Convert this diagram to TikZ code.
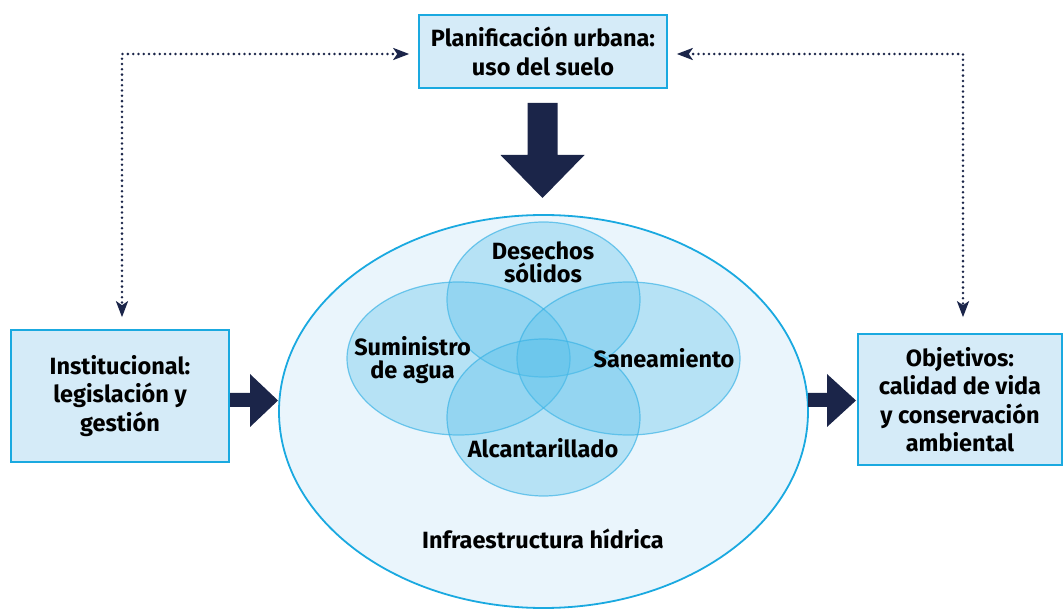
\documentclass[tikz,border=0pt]{standalone}
\usepackage{fontspec}
\setmainfont{Fira Sans}
\usetikzlibrary{arrows.meta}
\definecolor{navy}{HTML}{1B2549}
\definecolor{cyanline}{HTML}{1AA9E0}
\definecolor{boxfill}{HTML}{D5EBF8}
\definecolor{ellfill}{HTML}{EAF5FC}
\definecolor{circfill}{HTML}{4FBDE9}
\definecolor{circline}{HTML}{3DB4E6}
\tikzset{navytip/.tip={Stealth[length=16pt, width=12pt, inset=4pt]}}
\begin{document}
\begin{tikzpicture}[x=1pt,y=-1pt,
  lbl/.style={font=\fontsize{23.5}{28.5}\selectfont\bfseries, align=center, text=black},
  vlbl/.style={font=\fontsize{23.5}{22.5}\selectfont\bfseries, align=center, text=black, anchor=base, inner sep=0pt},
  infobox/.style={draw=cyanline, line width=1.6pt, fill=boxfill, inner sep=0pt, lbl},
  vennset/.style={fill=circfill, fill opacity=0.33, draw=circline, draw opacity=0.7, line width=1.2pt},
  dotline/.style={navy, line width=2.8pt, line cap=round, dash pattern=on 0pt off 5.3pt},
  block/.style={fill=navy}]
\useasboundingbox (0,0) rectangle (1063,609);

% outer ellipse
\draw[fill=ellfill, draw=cyanline, line width=1.8pt] (543.5,411.5) ellipse [x radius=264.5, y radius=196.5];

% venn sets
\draw[vennset] (543.5,299.5) ellipse [x radius=96.5, y radius=77.5];
\draw[vennset] (458.5,358.5) ellipse [x radius=111.5, y radius=76.5];
\draw[vennset] (628.5,358.5) ellipse [x radius=111.5, y radius=76.5];
\draw[vennset] (543.5,417.5) ellipse [x radius=96.5, y radius=78.5];

\node[vlbl] (des) at (543,282.5) {Desechos\\sólidos};
\node[vlbl] (sum) at (412.5,378.5) {Suministro\\de agua};
\node[vlbl] (san) at (664,368) {Saneamiento};
\node[vlbl] (alc) at (543,457) {Alcantarillado};
\node[vlbl] (inf) at (543,548) {Infraestructura hídrica};

% boxes
\node[infobox, minimum width=248pt, minimum height=73pt] (plan) at (543,51.5) {Planificación urbana:\\uso del suelo};
\node[infobox, minimum width=218pt, minimum height=132pt] (inst) at (120,396) {Institucional:\\legislación y\\gestión};
\node[infobox, minimum width=204pt, minimum height=131pt] (obj) at (960,399.5) {Objetivos:\\calidad de vida\\y conservación\\ambiental};

% dotted connectors
\coordinate (tl) at (122,54);
\coordinate (tr) at (963,54);
\draw[dotline, {navytip}-{navytip}, shorten <=9pt, shorten >=12pt] (plan.west |- tl) -- (tl) -- (tl |- inst.north);
\draw[dotline, {navytip}-{navytip}, shorten <=9pt, shorten >=16pt] (plan.east |- tr) -- (tr) -- (tr |- obj.north);

% block arrows
\fill[block] (527.5,103) -- (557.5,103) -- (557.5,155) -- (584.5,155) -- (542.5,198) -- (500.5,155) -- (527.5,155) -- cycle;
\fill[block] (230,393) -- (250,393) -- (250,374) -- (278,400.5) -- (250,427) -- (250,407) -- (230,407) -- cycle;
\fill[block] (808,393) -- (827,393) -- (827,374) -- (856,400.5) -- (827,427) -- (827,407) -- (808,407) -- cycle;
\end{tikzpicture}
\end{document}
